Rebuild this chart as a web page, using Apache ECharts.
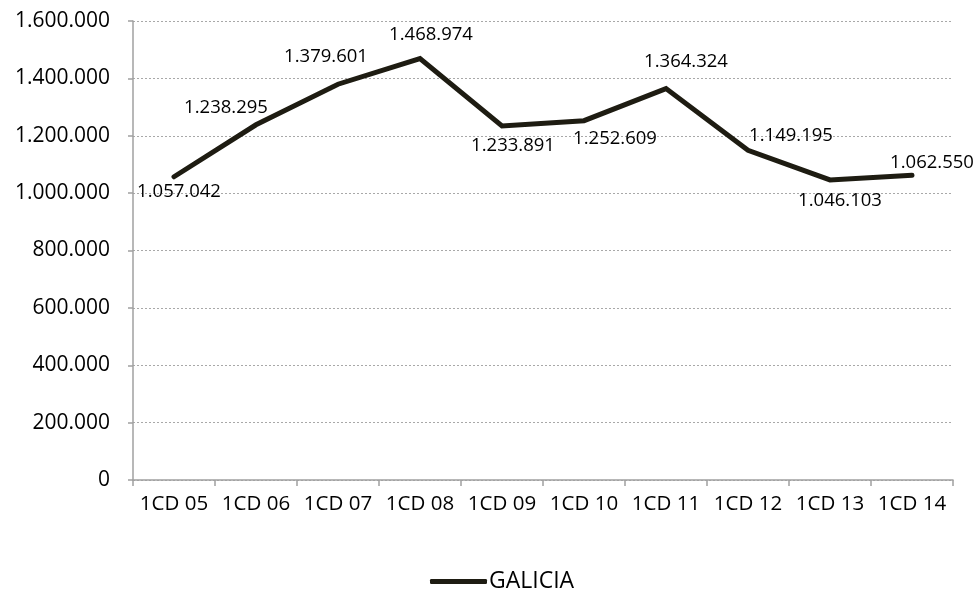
<!DOCTYPE html>
<html><head><meta charset="utf-8">
<script src="https://cdn.jsdelivr.net/npm/echarts@6/dist/echarts.min.js"></script>
<style>html,body{margin:0;padding:0;background:#fff}#c{width:977px;height:590px}</style>
</head><body><div id="c"></div>
<script>
const categories = ['1CD 05','1CD 06','1CD 07','1CD 08','1CD 09','1CD 10','1CD 11','1CD 12','1CD 13','1CD 14'];
const galicia = [1057042,1238295,1379601,1468974,1233891,1252609,1364324,1149195,1046103,1062550];
const yTicks = {min:0, max:1600000, interval:200000};
// label placement (style only)
const labelOffsets = [[5,15],[-30,-17],[-12,-27],[11,-24],[11,20],[31,18],[20,-27],[43,-15],[10,21],[20,-12]];

function fmt(v){ return String(v).replace(/\B(?=(\d{3})+(?!\d))/g,'.'); }

const FONT = '"Open Sans", sans-serif';
const chart = echarts.init(document.getElementById('c'));
chart.setOption({
  animation:false,
  grid:{left:133,right:24,top:21,bottom:110,containLabel:false},
  legend:{
    top:565, left:425,
    itemWidth:57, itemHeight:5, icon:'roundRect', itemGap:10,
    textStyle:{fontFamily:FONT,fontSize:23,color:'#000',padding:[0,0,0,-3]},
    data:['GALICIA']
  },
  xAxis:{
    type:'category', data:categories, boundaryGap:true,
    axisLine:{lineStyle:{color:'#a0a0a0',width:1.5}},
    axisTick:{show:true,length:6,alignWithLabel:false,lineStyle:{color:'#a0a0a0',width:1.5}},
    axisLabel:{fontFamily:FONT,fontSize:20.5,color:'#000',margin:14,interval:0},
    splitLine:{show:false}
  },
  yAxis:{
    type:'value', min:yTicks.min, max:yTicks.max, interval:yTicks.interval,
    axisLine:{show:true,lineStyle:{color:'#a0a0a0',width:1.5}},
    axisTick:{show:true,length:5,lineStyle:{color:'#a0a0a0',width:1.5}},
    axisLabel:{fontFamily:FONT,fontSize:21,color:'#000',margin:23,formatter:v=>fmt(v)},
    splitLine:{show:true,lineStyle:{color:'#a8a8a8',type:[2,2],width:1}}
  },
  series:[{
    name:'GALICIA', type:'line',
    data: galicia,
    symbol:'circle', symbolSize:1, showSymbol:true,
    lineStyle:{color:'#1e1c12',width:5,cap:'round',join:'miter'},
    itemStyle:{color:'#1e1c12'},
    label:{show:true,position:'inside',fontFamily:FONT,fontSize:18.5,color:'#000',formatter:p=>fmt(p.value)},
    labelLayout:function(p){ const o = labelOffsets[p.dataIndex]; return {dx:o[0], dy:o[1], hideOverlap:false}; }
  }]
});
</script></body></html>
